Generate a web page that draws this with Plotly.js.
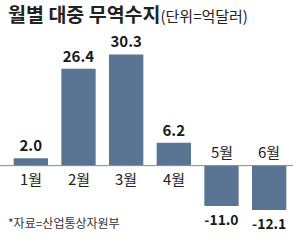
<!DOCTYPE html>
<html><head><meta charset="utf-8">
<script src="https://cdn.plot.ly/plotly-3.0.1.min.js"></script>
<style>html,body{margin:0;padding:0;background:#fff}#chart{width:300px;height:252px}</style>
</head><body><div id="chart"></div>
<script>
const months = ['1월','2월','3월','4월','5월','6월'];
const balance = [2.0, 26.4, 30.3, 6.2, -11.0, -12.1];
const titleMain = '월별 대중 무역수지';
const titleUnit = '(단위=억달러)';
const sourceText = '*자료=산업통상자원부';

const NUMFONT = '"Noto Sans CJK KR", sans-serif';
const CATFONT = '"Noto Sans CJK KR", sans-serif';
const barColor = '#5a7594';

const catAnn = months.map((m, i) => ({
  x: m, y: 0, xref: 'x', yref: 'y', text: m, showarrow: false,
  yanchor: balance[i] >= 0 ? 'top' : 'bottom',
  yshift: balance[i] >= 0 ? 0 : 2,
  font: {family: CATFONT, size: 15, color: '#222'}
}));

const trace = {
  type: 'bar', x: months, y: balance,
  marker: {color: barColor, line: {width: 0}},
  texttemplate: '%{y:.1f}', textposition: 'outside',
  outsidetextfont: {family: NUMFONT, size: 15, color: '#1a1a1a', weight: 'bold'},
  cliponaxis: false, hoverinfo: 'none'
};

const layout = {
  width: 300, height: 252,
  margin: {l: 7, r: 7, t: 50, b: 35},
  paper_bgcolor: '#fff', plot_bgcolor: '#fff',
  bargap: 0.28,
  showlegend: false,
  title: {
    text: '<b>' + titleMain + '</b><span style="font-size:15px;font-weight:normal">' + titleUnit + '</span>',
    x: 0.027, xanchor: 'left', xref: 'container',
    y: 1 - 15/252, yanchor: 'middle', yref: 'container',
    font: {family: '"Noto Sans CJK KR", sans-serif', size: 19.5, color: '#222'}
  },
  xaxis: {showticklabels: false, showline: false, showgrid: false, zeroline: false, ticks: ''},
  yaxis: {range: [-14, 31.5], showticklabels: false, showgrid: false, showline: false,
          zeroline: false, ticks: ''},
  shapes: [{type: 'line', xref: 'paper', yref: 'y', x0: -0.03, x1: 1, y0: 0, y1: 0,
            line: {color: '#8a8a8a', width: 1}}],
  annotations: catAnn.concat([{
    xref: 'paper', yref: 'paper', x: -0.003, y: -0.035, xanchor: 'left', yanchor: 'middle',
    text: sourceText, showarrow: false,
    font: {family: '"Noto Sans CJK KR", sans-serif', size: 12, color: '#333'}
  }])
};

Plotly.newPlot('chart', [trace], layout, {staticPlot: true, displayModeBar: false});
</script></body></html>
